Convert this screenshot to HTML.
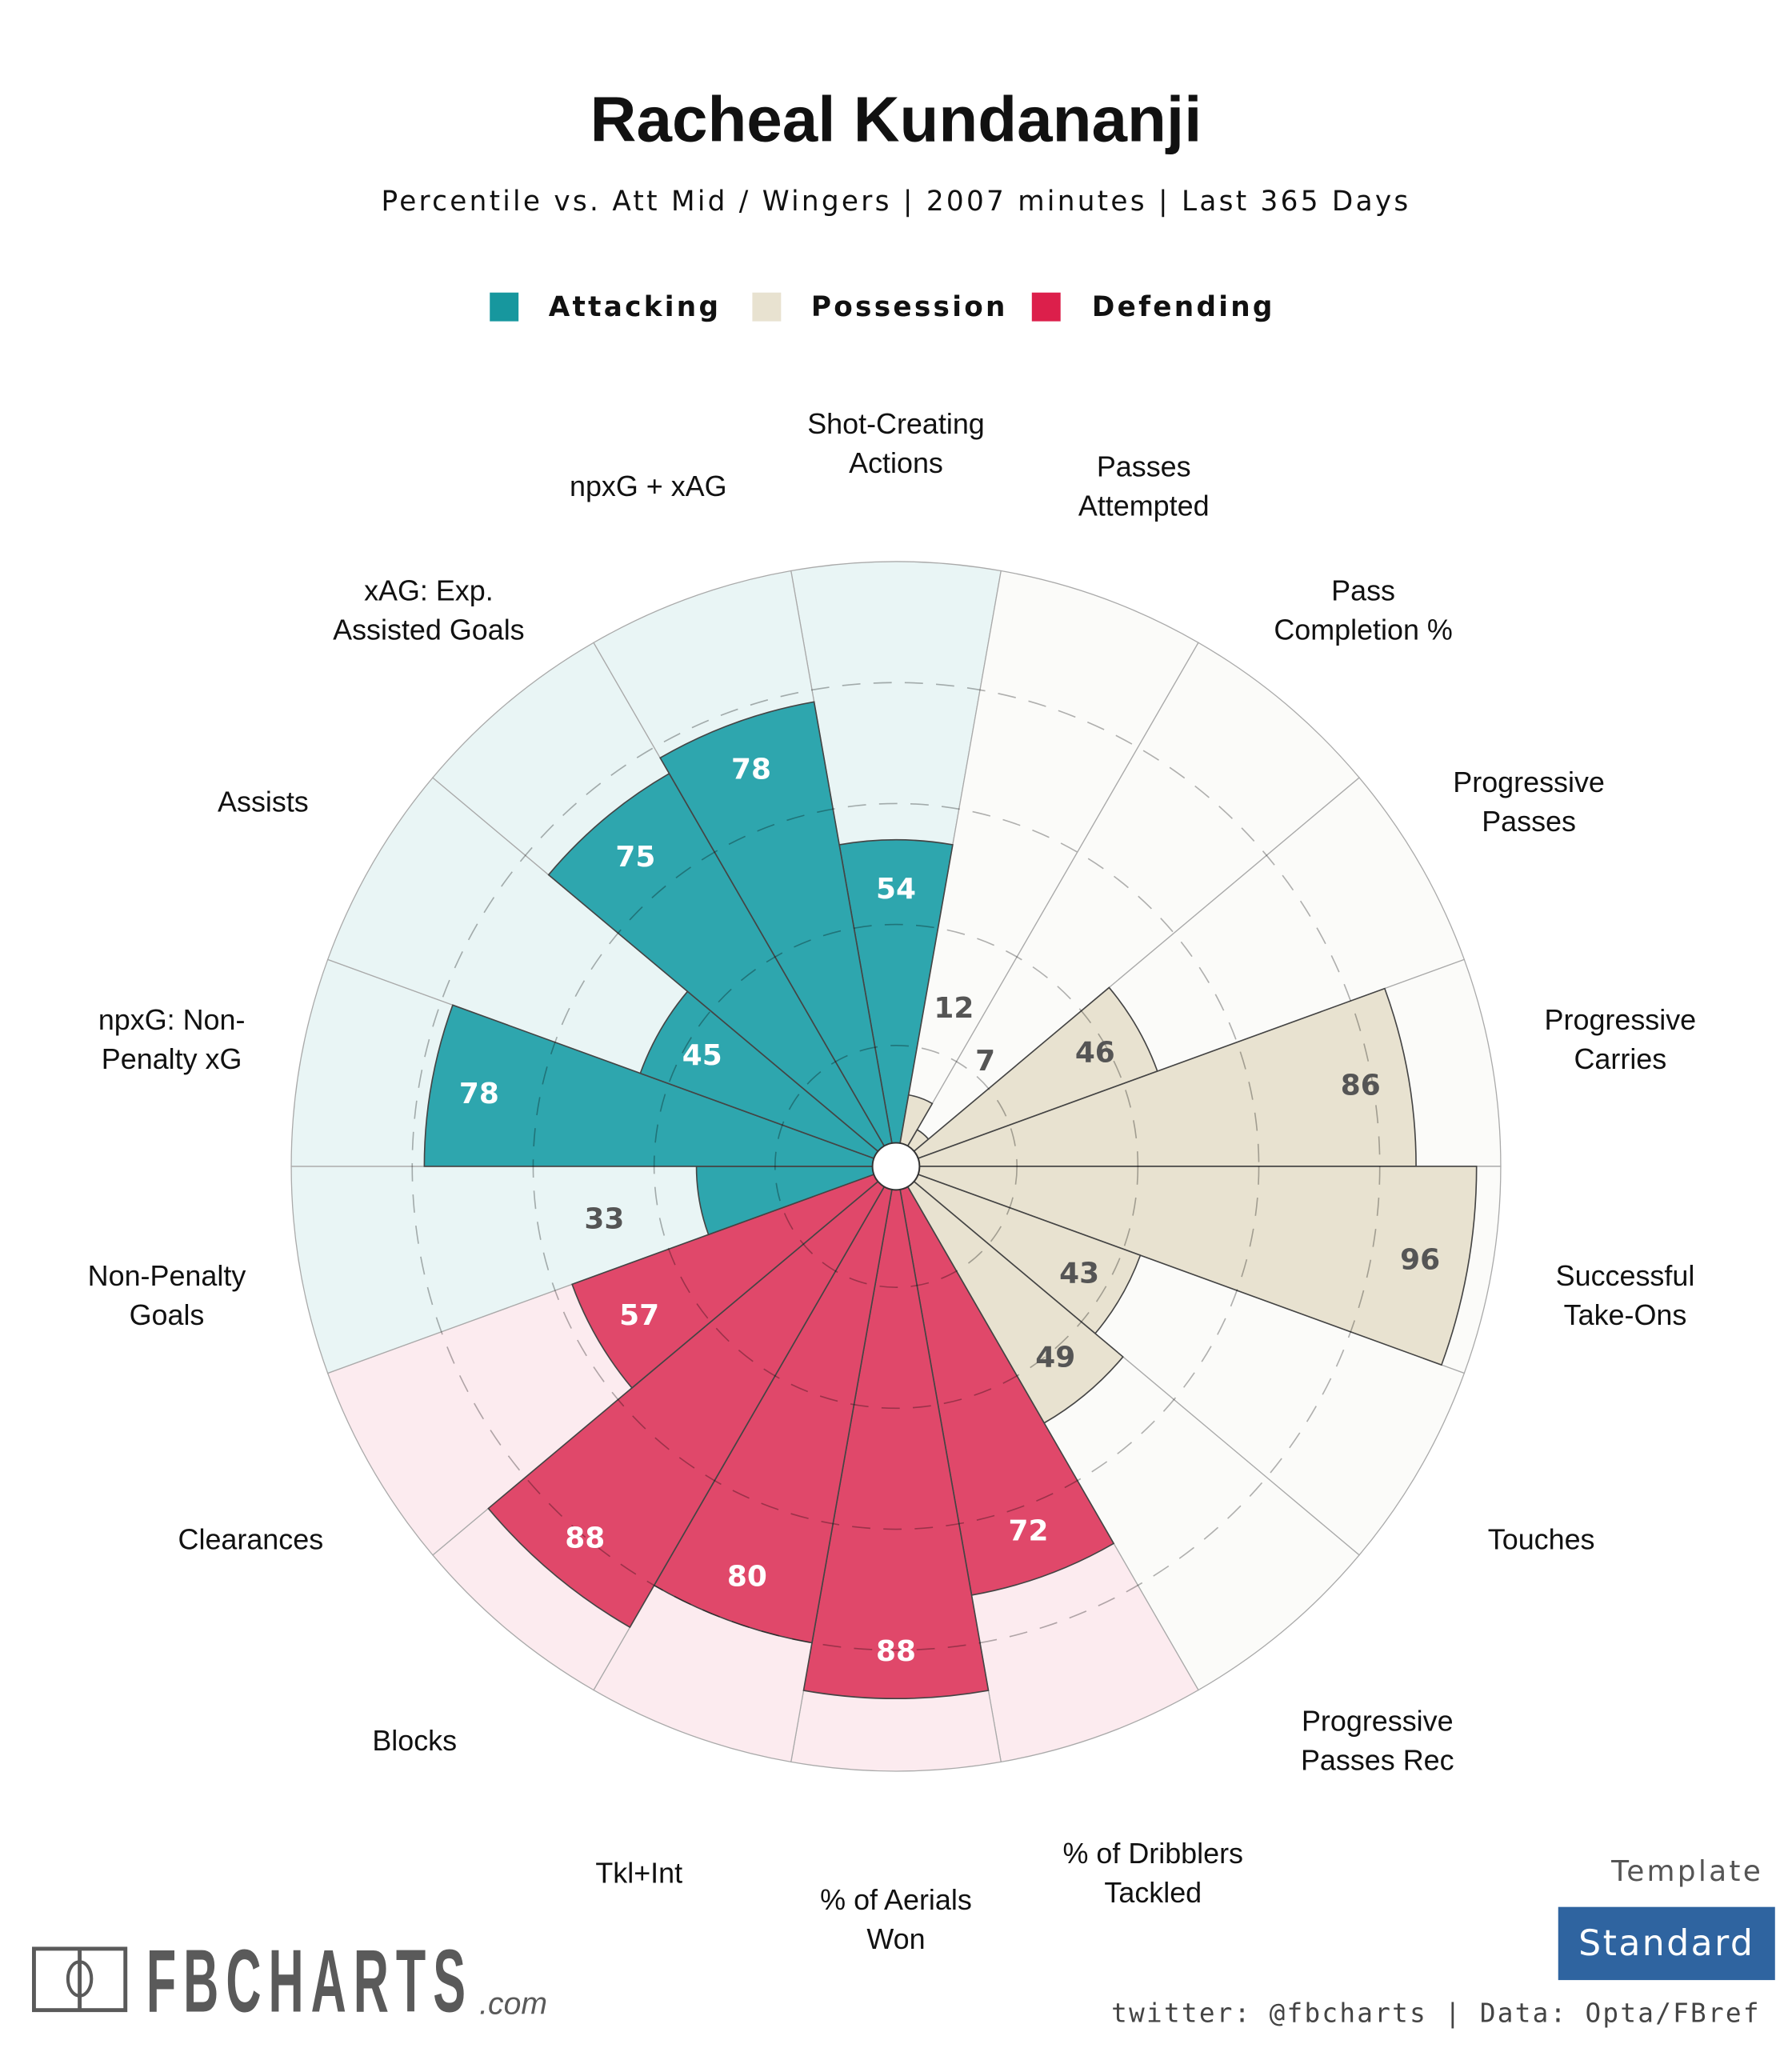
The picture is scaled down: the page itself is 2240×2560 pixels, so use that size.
<!DOCTYPE html>
<html><head><meta charset="utf-8">
<style>
html,body{margin:0;padding:0;background:#fff;}
svg{display:block;}
.cat{font-family:"Liberation Sans",sans-serif;font-size:22px;fill:#111;}
.val{font-family:"DejaVu Sans",sans-serif;font-weight:bold;font-size:22px;}
</style></head>
<body>
<svg id="chart" width="2240" height="2560" viewBox="0 0 1372 1568" preserveAspectRatio="none" xmlns="http://www.w3.org/2000/svg">
<text x="686" y="108" text-anchor="middle" font-family="Liberation Sans,sans-serif" font-weight="bold" font-size="49" fill="#111">Racheal Kundananji</text>
<text x="686" y="161" text-anchor="middle" font-family="DejaVu Sans,sans-serif" font-size="21" letter-spacing="2.0" fill="#111">Percentile vs. Att Mid / Wingers | 2007 minutes | Last 365 Days</text>
<g font-family="DejaVu Sans,sans-serif" font-weight="bold" font-size="21" letter-spacing="2" fill="#111">
 <rect x="375" y="224" width="22" height="22" fill="#17979e"/>
 <text x="420" y="242">Attacking</text>
 <rect x="576" y="224" width="22" height="22" fill="#e8e2d0"/>
 <text x="621" y="242">Possession</text>
 <rect x="790" y="224" width="22" height="22" fill="#dc1f4b"/>
 <text x="836" y="242">Defending</text>
</g>
<g id="bg"></g><g id="bars"></g><g id="grid"></g><g id="vals"></g><g id="cats"></g>
<circle cx="686" cy="893" r="18" fill="#fff" stroke="#333" stroke-width="1.2"/>
<g>
 <rect x="26" y="1492" width="70" height="47" fill="none" stroke="#5a5a5a" stroke-width="3"/>
 <line x1="61" y1="1492" x2="61" y2="1539" stroke="#5a5a5a" stroke-width="3"/>
 <ellipse cx="61" cy="1515" rx="9" ry="13" fill="none" stroke="#5a5a5a" stroke-width="2.5"/>
 <text x="112" y="1540" font-family="Liberation Sans Narrow,Liberation Sans,sans-serif" font-weight="bold" font-size="68" letter-spacing="10" fill="#5a5a5a" textLength="250" lengthAdjust="spacingAndGlyphs">FBCHARTS</text>
 <text x="367" y="1542" font-family="Liberation Sans,sans-serif" font-style="italic" font-size="24" fill="#5a5a5a">.com</text>
</g>
<text x="1350" y="1440" text-anchor="end" font-family="DejaVu Sans,sans-serif" font-size="22" letter-spacing="2" fill="#555">Template</text>
<rect x="1193" y="1460" width="166" height="56" fill="#2f64a0"/>
<text x="1276" y="1497" text-anchor="middle" font-family="DejaVu Sans,sans-serif" font-size="27" letter-spacing="1.5" fill="#fff">Standard</text>
<text x="1348" y="1548" text-anchor="end" font-family="DejaVu Sans Mono,Liberation Mono,monospace" font-size="20" letter-spacing="1.4" fill="#444">twitter: @fbcharts | Data: Opta/FBref</text>
</svg>
<script>
const categories=["Shot-Creating|Actions","Passes|Attempted","Pass|Completion %","Progressive|Passes","Progressive|Carries","Successful|Take-Ons","Touches","Progressive|Passes Rec","% of Dribblers|Tackled","% of Aerials|Won","Tkl+Int","Blocks","Clearances","Non-Penalty|Goals","npxG: Non-|Penalty xG","Assists","xAG: Exp.|Assisted Goals","npxG + xAG"];
const values=[54,12,7,46,86,96,43,49,72,88,80,88,57,33,78,45,75,78];
const groups=["att","pos","pos","pos","pos","pos","pos","pos","def","def","def","def","def","att","att","att","att","att"];
const gridTicks=[20,40,60,80];
const CX=686,CY=893,R=463,NS="http://www.w3.org/2000/svg";
const fill={att:"#2ea6ae",pos:"#e8e2d0",def:"#e0486a"};
const bgFill={att:"#e9f5f5",pos:"#fbfbf9",def:"#fcebef"};
const txtCol={att:"#fff",pos:"#555",def:"#fff"};
function rScale(v){return v/100*R;}
function ang(i){return (-90+i*360/categories.length)*Math.PI/180;}
function wedge(i,r){const h=Math.PI/categories.length,a0=ang(i)-h,a1=ang(i)+h;
 return `M${CX},${CY}L${CX+r*Math.cos(a0)},${CY+r*Math.sin(a0)}A${r},${r} 0 0 1 ${CX+r*Math.cos(a1)},${CY+r*Math.sin(a1)}Z`;}
function mk(tag,attrs,parent){const e=document.createElementNS(NS,tag);for(const k in attrs)e.setAttribute(k,attrs[k]);document.getElementById(parent).appendChild(e);return e;}
values.forEach((v,i)=>{
 const bg=mk("path",{d:wedge(i,R),fill:bgFill[groups[i]],stroke:"#aaa","stroke-width":0.8},"bg");
 
 
 const b=mk("path",{d:wedge(i,rScale(v)),fill:fill[groups[i]],stroke:"#444","stroke-width":1},"bars");
 
 
 const a=ang(i),inside=v>=40,lr=inside?rScale(v)-37:rScale(v)+74;
 const t=mk("text",{x:CX+lr*Math.cos(a),y:CY+lr*Math.sin(a)+8,"text-anchor":"middle",class:"val",fill:inside?txtCol[groups[i]]:"#555"},"vals");
 t.textContent=v;
 
 
 const lines=categories[i].split("|"),cr=565+11*Math.sin(a);
 const c=mk("text",{x:CX+cr*Math.cos(a),y:CY+cr*Math.sin(a)+8-(lines.length-1)*15,"text-anchor":"middle",class:"cat"},"cats");
 
 
 lines.forEach((l,j)=>{const ts=document.createElementNS(NS,"tspan");ts.setAttribute("x",c.getAttribute("x"));ts.setAttribute("dy",j?30:0);ts.textContent=l;c.appendChild(ts);});
});
gridTicks.forEach(g=>{
 const c=mk("circle",{cx:CX,cy:CY,r:rScale(g),fill:"none",stroke:"#000","stroke-opacity":0.3,"stroke-width":1,"stroke-dasharray":"14 10"},"grid");
 
 
});
</script>
</body></html>
